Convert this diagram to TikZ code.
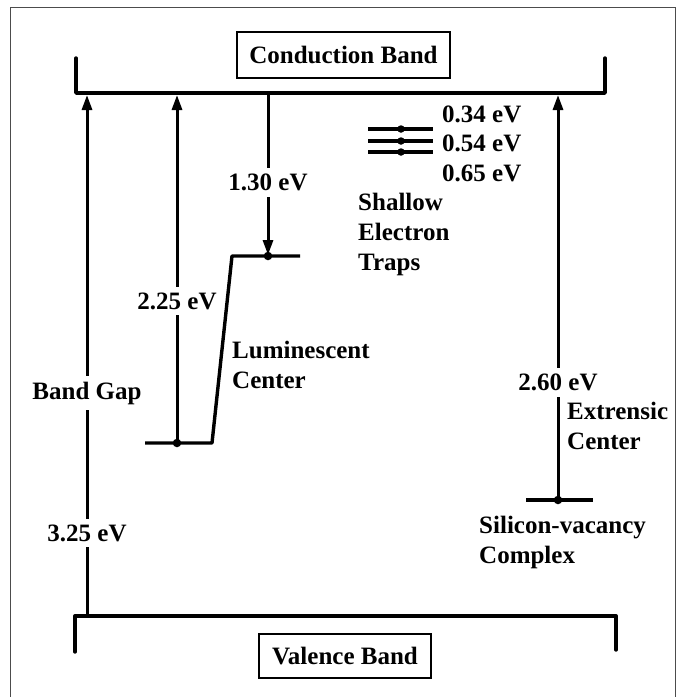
\documentclass[tikz,border=0pt]{standalone}
\usepackage{fontspec}
\setmainfont{Liberation Serif}
\usetikzlibrary{arrows.meta}
\begin{document}
\begin{tikzpicture}[x=1pt,y=-1pt,
  lbl/.style={font=\bfseries\fontsize{25}{30}\selectfont, inner sep=1pt},
  onln/.style={lbl, fill=white, inner xsep=3pt, inner ysep=6pt},
  bandbox/.style={draw, line width=2.2pt, font=\bfseries\fontsize{25}{30}\selectfont, inner sep=0pt},
  band/.style={line width=3.4pt, line cap=round, line join=round},
  level/.style={line width=3.4pt, line join=round},
  ar/.style={line width=3pt, -{Triangle[length=15pt,width=10pt]}},
  dot/.style={circle, fill, inner sep=0pt, minimum size=8.5pt}
]
\useasboundingbox (0,0) rectangle (679,697);
% frame
\draw[line width=1pt, black!70] (10,697) -- (10,7) -- (675,7) -- (675,697);

% bands
\node[bandbox, minimum width=213pt, minimum height=46pt] (cb) at (343.5,55) {Conduction Band};
\node[bandbox, minimum width=172pt, minimum height=44pt] (vb) at (345,656) {Valence Band};
\draw[band] (76,58) -- (76,93) -- (605,93) -- (605,58);
\draw[band] (75,652) -- (75,616) -- (616,616) -- (616,650);

% named points
\coordinate (cbA) at (87,95);
\coordinate (cbB) at (177,95);
\coordinate (cbC) at (268,93);
\coordinate (cbD) at (558,95);
\coordinate (vbA) at (87,616);

% luminescent center levels
\draw[level] (145,443) -- (212,443) -- (232,256) -- (300,256);
\node[dot] (lumlo) at (177,443) {};
\node[dot] (lumhi) at (268,256) {};

% silicon-vacancy level
\draw[level] (526,500) -- (593,500);
\node[dot] (sil) at (558,500) {};

% shallow traps
\draw[level] (368,129) -- (433,129);
\draw[level] (368,141) -- (433,141);
\draw[level] (368,152) -- (433,152);
\node[dot, minimum size=7.5pt] (t1) at (401,129) {};
\node[dot, minimum size=7.5pt] (t2) at (401,141) {};
\node[dot, minimum size=7.5pt] (t3) at (401,152) {};

% arrows
\draw[ar] (vbA) -- (cbA);
\draw[ar] (lumlo.center) -- (cbB);
\draw[ar, shorten >=1pt] (cbC) -- (lumhi.center);
\draw[ar] (sil.center) -- (cbD);

% labels on lines
\node[onln] (lBG) at (87,393) {Band Gap};
\node[onln] (l325) at (87,533) {3.25 eV};
\node[onln] (l225) at (177,301) {2.25 eV};
\node[onln] (l130) at (268,182) {1.30 eV};
\node[onln] (l260) at (558,382) {2.60 eV};

% other texts (base west = baseline of last line)
\node[lbl, anchor=base west] (e1) at (441,122) {0.34 eV};
\node[lbl, anchor=base west] (e2) at (441,151) {0.54 eV};
\node[lbl, anchor=base west] (e3) at (441,181) {0.65 eV};
\node[lbl, anchor=base west, align=left] (shal) at (357,270) {Shallow\\Electron\\Traps};
\node[lbl, anchor=base west, align=left] (lum) at (231,388) {Luminescent\\Center};
\node[lbl, anchor=base west, align=left] (ext) at (566,449) {Extrensic\\Center};
\node[lbl, anchor=base west, align=left] (svc) at (478,563) {Silicon-vacancy\\Complex};
\end{tikzpicture}
\end{document}
